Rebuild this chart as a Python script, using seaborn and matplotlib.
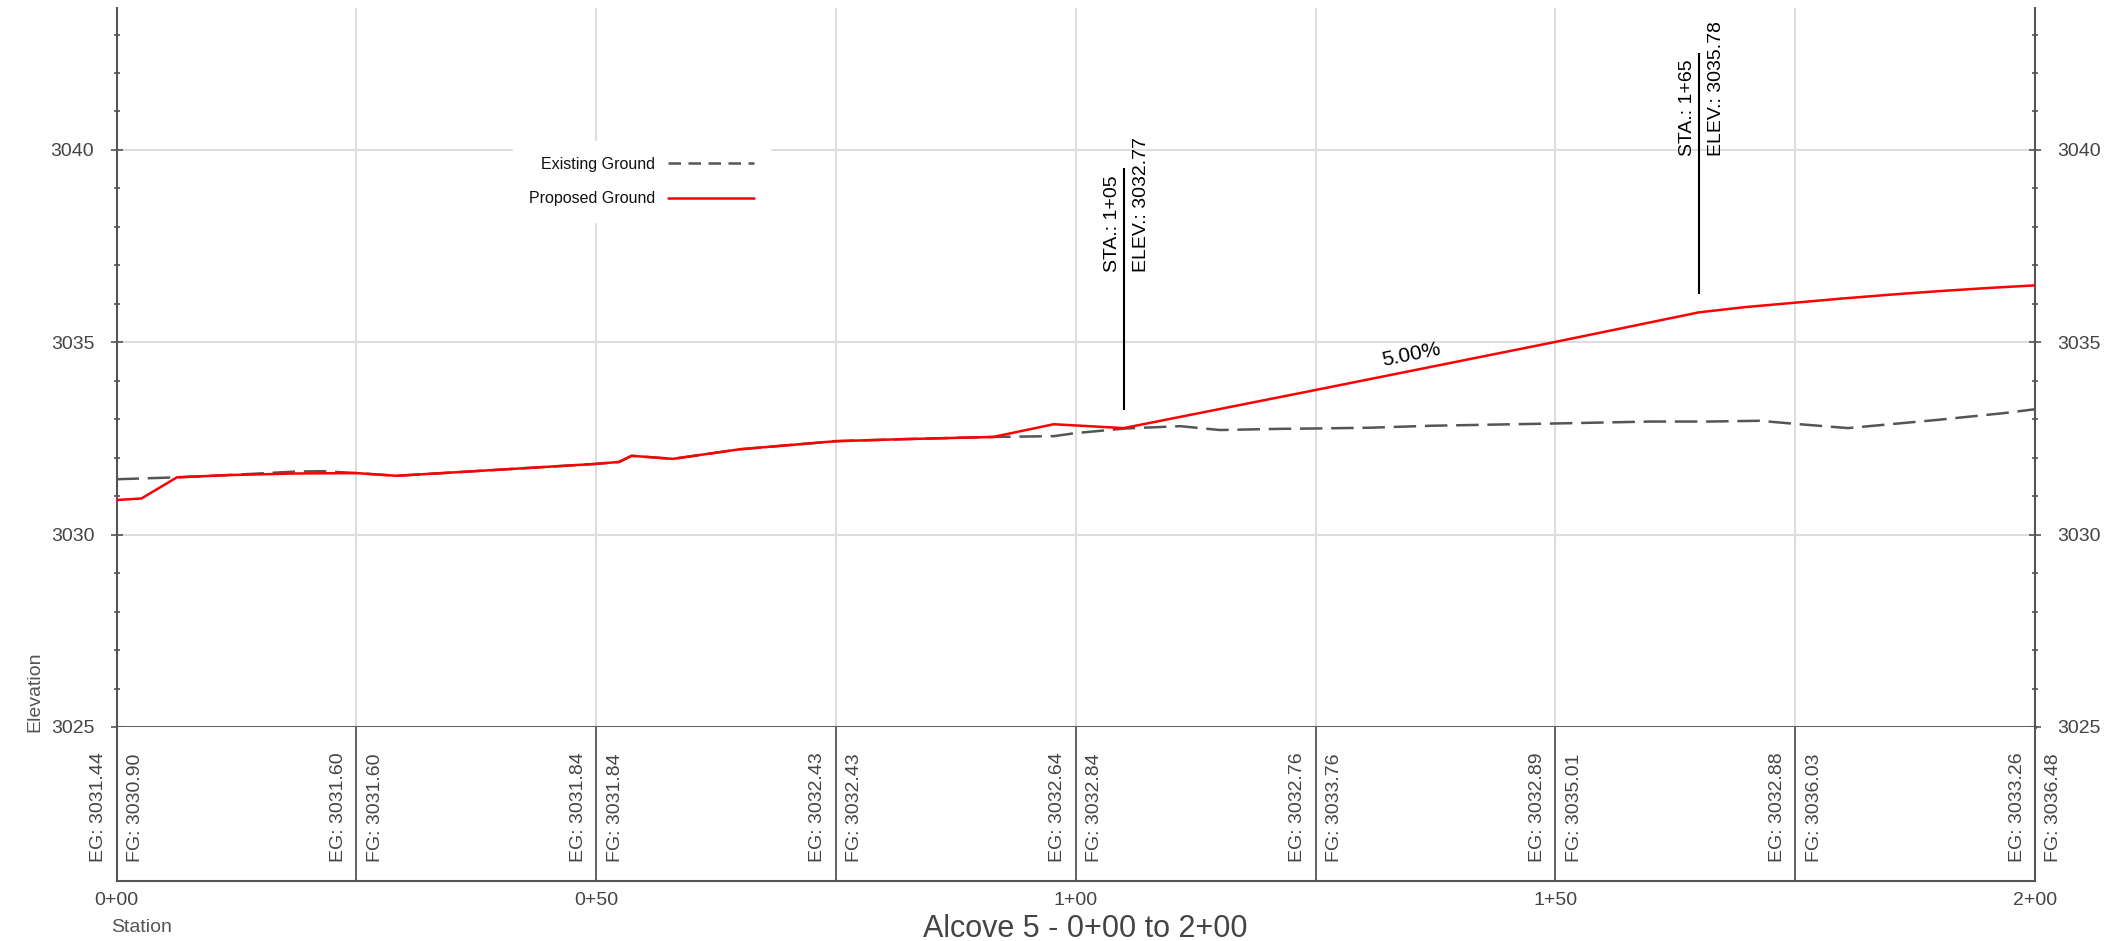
import matplotlib
matplotlib.use("Agg")
import matplotlib.pyplot as plt
from matplotlib.lines import Line2D
from matplotlib.ticker import MultipleLocator
import seaborn as sns
import numpy as np

# existing ground profile (station ft, elevation ft)
eg_station = [0, 6.3, 11.8, 18.7, 21.5, 25, 29.2, 40, 50, 52.4, 53.7, 58, 65, 75, 81.7,
              91.4, 97.7, 100, 105.2, 110.9, 115, 121.3, 125, 130.7, 136.9, 150, 159.9,
              165.9, 171.3, 175, 180.5, 189.7, 196.8, 200]
eg_elev = [3031.44, 3031.49, 3031.55, 3031.64, 3031.65, 3031.60, 3031.53, 3031.69, 3031.84,
           3031.89, 3032.05, 3031.97, 3032.22, 3032.43, 3032.48, 3032.54, 3032.56, 3032.64,
           3032.76, 3032.82, 3032.72, 3032.75, 3032.76, 3032.78, 3032.83, 3032.89, 3032.94,
           3032.94, 3032.96, 3032.88, 3032.77, 3032.98, 3033.16, 3033.26]

# proposed ground profile
fg_station = [0, 2.6, 6.3, 11.8, 18.7, 25, 29.2, 40, 50, 52.4, 53.7, 58, 65, 75, 81.7,
              91.4, 97.7, 105, 125, 150, 165, 170, 175, 180, 185, 190, 195, 200]
fg_elev = [3030.90, 3030.94, 3031.49, 3031.55, 3031.59, 3031.60, 3031.53, 3031.69, 3031.84,
           3031.89, 3032.05, 3031.97, 3032.22, 3032.43, 3032.48, 3032.54, 3032.87, 3032.77,
           3033.76, 3035.01, 3035.78, 3035.92, 3036.03, 3036.14, 3036.24, 3036.33, 3036.41,
           3036.48]

# band table below the profile
table_station = [0, 25, 50, 75, 100, 125, 150, 175, 200]
table_eg = [3031.44, 3031.60, 3031.84, 3032.43, 3032.64, 3032.76, 3032.89, 3032.88, 3033.26]
table_fg = [3030.90, 3031.60, 3031.84, 3032.43, 3032.84, 3033.76, 3035.01, 3036.03, 3036.48]

# grade break callouts
pvi_station = [105, 165]
pvi_elev = [3032.77, 3035.78]
pvi_label = ["1+05", "1+65"]
grade = 0.05
grade_station = 135

station_ticks = [0, 50, 100, 150, 200]


def sta_fmt(s):
    return f"{int(s // 100)}+{int(s % 100):02d}"


sns.set_theme(style="white")
plt.rcParams['font.family'] = ['Liberation Sans', 'DejaVu Sans']

W, H = 2123, 941
fig = plt.figure(figsize=(W / 100, H / 100), dpi=100)
left, right = 116.5 / W, 2035 / W
ax = fig.add_axes([left, 1 - 727 / H, right - left, (727 - 8) / H])
tax = fig.add_axes([left, 1 - 881 / H, right - left, (881 - 727) / H])

gray = '#555555'
txt = '#444444'

sns.lineplot(x=eg_station, y=eg_elev, ax=ax, color=gray, lw=1.8, sort=False,
             errorbar=None, linestyle=(0, (9, 3.5)), zorder=3)
sns.lineplot(x=fg_station, y=fg_elev, ax=ax, color='#ff0000', lw=1.8, sort=False,
             errorbar=None, zorder=4)

ax.set_xlim(0, 200)
ax.set_ylim(3025, 3043.69)
ax.xaxis.set_major_locator(MultipleLocator(25))
ax.yaxis.set_major_locator(MultipleLocator(5))
ax.yaxis.set_minor_locator(MultipleLocator(1))
ax.grid(True, which='major', color='#dddddd', lw=1.5)
ax.tick_params(axis='x', length=0, labelbottom=False)
ax.yaxis.set_ticks_position('both')
ax.tick_params(axis='y', which='major', direction='inout', length=8, width=1.2, color=gray,
               left=True, right=True, labelleft=True, labelright=True,
               labelsize=14, labelcolor=txt, pad=12)
ax.tick_params(axis='y', which='minor', direction='inout', length=4.3, width=1.2, color=gray,
               left=True, right=True)
ax.set_xlabel('')
ax.set_ylabel('')
ax.spines['top'].set_visible(False)
for s in ['left', 'right']:
    ax.spines[s].set_color(gray)
    ax.spines[s].set_linewidth(1.5)
ax.spines['bottom'].set_color(gray)
ax.spines['bottom'].set_linewidth(2.0)

# callouts at grade breaks
for st, el, lbl in zip(pvi_station, pvi_elev, pvi_label):
    ax.vlines(st, el + 0.47, el + 6.75, color='black', lw=1.5, zorder=5)
    ax.annotate(f"STA.: {lbl}", xy=(st, el + 4.06), xytext=(-3, 0),
                textcoords='offset pixels', rotation=90, rotation_mode='anchor',
                ha='left', va='bottom', fontsize=14, color='black')
    ax.annotate(f"ELEV.: {el:.2f}", xy=(st, el + 4.06), xytext=(9, 0),
                textcoords='offset pixels', rotation=90, rotation_mode='anchor',
                ha='left', va='top', fontsize=14, color='black')

g_y = pvi_elev[0] + grade * (grade_station - pvi_station[0]) + 0.4
ax.text(grade_station, g_y, f"{grade * 100:.2f}%", rotation=np.degrees(np.arctan(grade)),
        transform_rotates_text=True, rotation_mode='anchor', ha='center', va='center',
        fontsize=15, color='black')

handles = [Line2D([], [], color=gray, lw=1.8, linestyle=(0, (5, 3))),
           Line2D([], [], color='#ff0000', lw=1.8)]
leg = ax.legend(handles, ['Existing Ground', 'Proposed Ground'], loc='upper left',
                bbox_to_anchor=(0.2024, 0.826), markerfirst=False, frameon=True,
                framealpha=1, facecolor='white', edgecolor='white', fancybox=False,
                fontsize=11.5, handlelength=5.4, handletextpad=0.8, labelspacing=1.2,
                borderpad=1.0)
for t in leg.get_texts():
    t.set_color('#111111')

# band table
tax.set_xlim(0, 200)
tax.set_ylim(0, 1)
tax.set_yticks([])
tax.set_xticks(station_ticks)
tax.set_xticklabels([sta_fmt(s) for s in station_ticks])
tax.tick_params(axis='x', length=0, labelsize=14, labelcolor=txt, pad=8)
tax.grid(False)
tax.spines['top'].set_visible(False)
for s in ['left', 'right', 'bottom']:
    tax.spines[s].set_color(gray)
    tax.spines[s].set_linewidth(1.5)
for st in table_station[1:-1]:
    tax.axvline(st, color=gray, lw=1.3)
for st, e, f in zip(table_station, table_eg, table_fg):
    tax.annotate(f"EG: {e:.2f}", xy=(st, 0.123), xycoords=('data', 'axes fraction'),
                 xytext=(-18, 0), textcoords='offset pixels', rotation=90,
                 ha='center', va='bottom', fontsize=14, color=txt, annotation_clip=False)
    tax.annotate(f"FG: {f:.2f}", xy=(st, 0.123), xycoords=('data', 'axes fraction'),
                 xytext=(19, 0), textcoords='offset pixels', rotation=90,
                 ha='center', va='bottom', fontsize=14, color=txt, annotation_clip=False)

fig.text(35 / W, 1 - 732 / H, 'Elevation', rotation=90, ha='center', va='bottom',
         fontsize=14, color=gray)
fig.text(111 / W, 1 - 927 / H, 'Station', ha='left', va='center', fontsize=14, color=gray)
fig.text(0.511, 1 - 914 / H, 'Alcove 5 - 0+00 to 2+00', ha='center', va='top',
         fontsize=22, color=txt)

fig.savefig('out.png', dpi=100)
